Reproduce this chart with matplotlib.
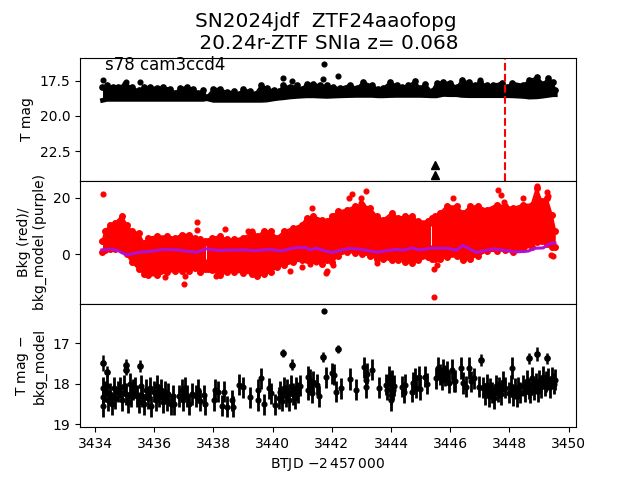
"""Figure: SN2024jdf TESS light curve, background and background-subtracted mag."""
import matplotlib
matplotlib.use("Agg")
import matplotlib.pyplot as plt

# top panel: black band of T mag, edges
band_t = [3434.25, 3434.40, 3434.62, 3434.79, 3435.02, 3435.24, 3435.47, 3435.64, 3435.86, 3436.09,
          3436.31, 3436.54, 3436.71, 3436.87, 3437.10, 3437.32, 3437.49, 3437.66, 3437.77, 3438.00,
          3438.23, 3438.45, 3438.68, 3438.85, 3439.01, 3439.24, 3439.41, 3439.61, 3439.80, 3440.03,
          3440.20, 3440.36, 3440.59, 3440.82, 3440.98, 3441.15, 3441.38, 3441.60, 3441.83, 3442.05,
          3442.28, 3442.61, 3442.84, 3443.06, 3443.35, 3443.57, 3443.74, 3443.96, 3444.19, 3444.36,
          3444.58, 3444.81, 3444.98, 3445.15, 3445.37, 3445.54, 3445.77, 3445.99, 3446.22, 3446.39,
          3446.63, 3446.84, 3447.01, 3447.23, 3447.46, 3447.74, 3447.91, 3448.10, 3448.47, 3448.67,
          3448.94, 3449.14, 3449.31, 3449.47, 3449.55]
band_bright = [17.96, 17.84, 17.96, 17.96, 17.73, 17.96, 18.20, 17.96, 17.96, 18.01,
               17.96, 18.08, 18.36, 18.03, 17.96, 18.08, 18.36, 18.20, 18.67, 18.08,
               18.08, 18.32, 18.27, 18.44, 18.08, 18.27, 18.44, 17.84, 18.03, 18.20,
               18.27, 17.84, 17.96, 17.84, 18.08, 17.73, 17.73, 17.84, 17.84, 17.96,
               18.03, 17.80, 18.03, 17.61, 17.84, 18.08, 18.03, 17.61, 17.84, 17.96,
               17.84, 17.56, 18.03, 17.73, 18.27, 17.65, 17.61, 17.65, 17.96, 17.49,
               17.61, 17.84, 17.61, 17.84, 17.80, 17.65, 17.96, 17.65, 17.80, 17.49,
               17.25, 17.73, 17.32, 17.61, 18.20]
band_faint = [18.90, 18.83, 18.83, 18.83, 18.83, 18.83, 18.83, 18.83, 18.83, 18.83,
              18.83, 18.83, 18.83, 18.83, 18.83, 18.83, 18.83, 18.83, 18.78, 18.90,
              18.90, 18.90, 18.90, 18.90, 18.90, 18.90, 18.90, 18.90, 18.88, 18.80,
              18.75, 18.72, 18.66, 18.62, 18.60, 18.58, 18.58, 18.60, 18.62, 18.60,
              18.58, 18.56, 18.55, 18.55, 18.55, 18.58, 18.58, 18.56, 18.55, 18.55,
              18.55, 18.55, 18.55, 18.56, 18.58, 18.58, 18.48, 18.50, 18.50, 18.55,
              18.57, 18.57, 18.57, 18.57, 18.57, 18.57, 18.57, 18.58, 18.62, 18.67,
              18.65, 18.60, 18.55, 18.50, 18.50]
out_t = [3434.28, 3435.03, 3435.53, 3440.36, 3440.67, 3441.71, 3441.75, 3442.22, 3447.00]
out_mag = [17.43, 17.60, 17.60, 17.31, 17.55, 17.38, 16.32, 17.14, 17.43]
lim_t = [3445.49, 3445.49]
lim_mag = [23.5, 24.2]
sn_peak = 3447.85

# middle panel: red band of background, its outliers and the purple model
bkg_t = [3434.25, 3434.34, 3434.51, 3434.68, 3434.90, 3435.07, 3435.24, 3435.47, 3435.64, 3435.80,
         3436.09, 3436.42, 3436.71, 3436.93, 3437.16, 3437.38, 3437.55, 3437.70, 3437.75, 3437.80, 3437.94, 3438.23,
         3438.45, 3438.68, 3439.01, 3439.30, 3439.46, 3439.71, 3439.94, 3440.14, 3440.39, 3440.70,
         3440.98, 3441.15, 3441.38, 3441.66, 3441.83, 3442.00, 3442.22, 3442.50, 3442.78, 3443.01,
         3443.29, 3443.51, 3443.74, 3444.02, 3444.25, 3444.47, 3444.70, 3444.92, 3445.26, 3445.31, 3445.34,
         3445.38, 3445.49, 3445.65, 3445.88, 3446.22, 3446.44, 3446.67, 3446.95, 3447.23, 3447.57, 3447.85,
         3448.13, 3448.47, 3448.75, 3448.92, 3449.09, 3449.26, 3449.43, 3449.55]
bkg_hi = [4.7, 8.2, 10.5, 11.1, 13.5, 10.5, 8.2, 7.6, 4.1, 5.9,
          6.4, 6.4, 5.9, 7.0, 7.0, 5.9, 5.3, 4.8, 2.9, 4.8, 5.9, 6.4,
          5.3, 5.3, 5.9, 7.6, 6.4, 8.2, 8.2, 5.9, 8.2, 9.4,
          10.5, 12.9, 13.5, 12.3, 11.7, 13.5, 15.2, 15.8, 17.0, 17.6,
          16.4, 13.5, 12.3, 14.6, 12.9, 13.5, 13.5, 11.7, 11.7, 11.7, 5.9,
          13.0, 13.5, 14.6, 17.0, 17.0, 14.6, 17.0, 17.0, 15.8, 17.6, 17.0,
          16.4, 17.6, 17.6, 23.4, 18.7, 19.9, 14.0, 8.2]
bkg_lo = [0.8, 1.4, 1.8, 2.0, 1.6, 0.0, -2.7, -5.1, -6.8, -7.4,
          -7.4, -6.2, -5.9, -5.9, -5.9, -4.7, -6.2, -5.0, -1.5, -5.0, -5.6, -7.4,
          -6.2, -6.2, -6.4, -6.8, -7.7, -7.0, -6.2, -4.4, -3.9, -2.7,
          -2.1, -2.1, -2.1, -3.3, -2.1, -2.7, -0.4, 0.8, 0.6, 0.2,
          -0.4, -1.5, -1.5, -2.1, -2.1, -2.7, -3.0, -2.1, -0.9, -0.9, 3.2,
          -1.5, -1.5, -1.5, -0.9, -0.7, -2.1, -1.5, -0.4, 1.2, 1.2, 1.4,
          0.8, 2.0, 2.8, 4.3, 4.9, 3.7, 2.6, 2.6]
bkg_out_t = [3434.28, 3441.32, 3437.46, 3437.46, 3438.39, 3439.18, 3439.30, 3436.99, 3436.35, 3437.04,
             3437.55, 3438.09, 3440.57, 3441.00, 3441.27, 3441.47, 3441.83, 3443.14, 3442.69, 3442.59,
             3442.97, 3442.97, 3446.10, 3447.62, 3447.70, 3447.83, 3448.47, 3448.94, 3449.26, 3449.31,
             3445.46, 3445.46, 3445.56, 3442.05, 3441.80, 3443.54, 3449.39, 3449.46, 3449.07]
bkg_out = [21.4, 16.5, 11.6, 8.5, 8.9, 8.3, 8.3, -10.5, -8.1, -7.7,
           -6.3, -7.5, -6.0, -4.6, -3.4, -2.8, -6.0, 22.3, 21.4, 19.8,
           20.0, 18.3, 20.0, 22.6, 20.9, 18.5, 20.0, 24.3, 22.1, 20.6,
           -15.1, -5.1, -3.7, -3.7, -6.6, -3.2, -0.2, -0.7, 4.8]
# thin empty lines inside the band, where the spacecraft data break
gap_t = [3437.75, 3445.34]
gap_lo = [-1.5, 3.2]
gap_hi = [2.9, 10.0]
model_t = [3434.23, 3434.57, 3434.79, 3435.02, 3435.18, 3435.35, 3435.64, 3436.03, 3436.31, 3436.76,
           3437.04, 3437.44, 3437.75, 3438.17, 3438.56, 3439.01, 3439.41, 3439.86, 3440.31, 3440.70,
           3441.10, 3441.27, 3441.49, 3441.77, 3442.05, 3442.28, 3442.61, 3443.01, 3443.23, 3443.57,
           3443.85, 3444.19, 3444.42, 3444.70, 3444.98, 3445.37, 3445.88, 3446.22, 3446.42, 3446.89,
           3447.46, 3447.85, 3448.24, 3448.64, 3448.86, 3449.14, 3449.37, 3449.54]
model = [1.6, 1.9, 1.3, 0.0, 0.0, 0.5, 0.9, 1.3, 1.8, 1.6,
         1.2, 0.8, 2.0, 1.4, 1.5, 1.6, 1.3, 1.8, 1.2, 2.3,
         2.5, 1.6, 2.2, 1.2, 0.7, 1.5, 2.1, 1.8, 1.3, 0.8,
         1.3, 1.8, 1.5, 2.3, 1.6, 2.2, 2.2, 1.5, 3.2, 0.7,
         2.0, 1.4, 0.9, 1.2, 2.2, 2.3, 3.9, 4.0]

# bottom panel: difference magnitudes, typical error bars
diff_t = [3434.27, 3434.27, 3434.27, 3434.33, 3434.40, 3434.45, 3434.52, 3434.58, 3434.65, 3434.68,
          3434.78, 3434.85, 3434.92, 3434.98, 3435.05, 3435.12, 3435.18, 3435.22, 3435.28,
          3435.35, 3435.42, 3435.48, 3435.55, 3435.60, 3435.66, 3435.72, 3435.78, 3435.84, 3435.90,
          3435.98, 3436.05, 3436.10, 3436.17, 3436.24, 3436.30, 3436.36, 3436.42, 3436.48, 3436.55, 3436.62, 3436.68,
          3436.85, 3436.92, 3436.98, 3437.05, 3437.12, 3437.18, 3437.26,
          3437.42, 3437.48, 3437.55, 3437.68, 3437.72,
          3438.03, 3438.05, 3438.15, 3438.28, 3438.34, 3438.47, 3438.62, 3438.67,
          3438.87, 3438.99, 3439.25, 3439.50, 3439.52, 3439.62, 3439.72, 3439.86, 3439.95, 3440.08,
          3440.20, 3440.26, 3440.32, 3440.38, 3440.44, 3440.50, 3440.56, 3440.62, 3440.68, 3440.74, 3440.80, 3440.86, 3440.93,
          3441.18, 3441.20, 3441.27, 3441.33, 3441.38, 3441.50, 3441.55, 3441.80, 3442.00, 3442.07, 3442.14, 3442.32,
          3442.62, 3442.83, 3443.10, 3443.16, 3443.16, 3443.20, 3443.37, 3443.61,
          3443.83, 3443.87, 3443.94, 3443.97, 3444.00, 3444.00, 3444.03, 3444.08, 3444.10,
          3444.36, 3444.44, 3444.47, 3444.70, 3444.73, 3444.82, 3444.83, 3444.95, 3444.98, 3445.15, 3445.20,
          3445.52, 3445.60, 3445.65, 3445.71, 3445.77, 3445.83, 3445.90, 3445.97, 3446.05, 3446.16,
          3446.13, 3446.38, 3446.44, 3446.52, 3446.63, 3446.69, 3446.80, 3446.97,
          3447.12, 3447.18, 3447.24, 3447.30, 3447.36, 3447.42, 3447.48, 3447.54, 3447.60, 3447.66, 3447.72, 3447.78, 3447.84,
          3447.98, 3448.04, 3448.08, 3448.12, 3448.18, 3448.24, 3448.30, 3448.36,
          3448.47, 3448.53, 3448.59, 3448.65, 3448.71, 3448.77, 3448.83, 3448.89, 3448.95, 3449.01,
          3449.07, 3449.13, 3449.19, 3449.25, 3449.31, 3449.37, 3449.43, 3449.49, 3449.54]
diff_mag = [18.10, 18.32, 18.55, 18.20, 18.05, 18.40, 18.25, 18.50, 18.10, 18.35,
            18.20, 18.10, 18.40, 18.05, 18.25, 18.45, 18.00, 18.30, 18.15,
            18.10, 18.30, 18.45, 18.05, 18.30, 18.50, 18.15, 18.35, 18.10, 18.55,
            18.20, 18.40, 18.05, 18.30, 18.15, 18.45, 18.20, 18.40, 18.25, 18.50, 18.30, 18.50,
            18.30, 18.15, 18.40, 18.10, 18.30, 18.50, 18.25,
            18.30, 18.15, 18.42, 18.28, 18.50,
            18.40, 18.15, 18.19, 18.54, 18.19, 18.56, 18.40, 18.56,
            18.02, 18.08, 18.33, 18.40, 18.15, 17.86, 18.50, 18.11, 18.23, 18.52,
            18.35, 18.20, 18.42, 18.10, 18.30, 18.15, 18.40, 18.05, 18.25, 18.35, 18.10, 18.22, 18.05,
            17.82, 18.15, 17.90, 18.22, 17.95, 18.02, 18.31, 17.84, 17.74, 17.78, 18.19, 18.11,
            17.88, 18.15, 17.59, 17.90, 18.08, 17.75, 17.65, 18.10,
            18.02, 18.15, 17.82, 17.95, 18.27, 18.40, 17.92, 18.15, 18.05,
            18.07, 18.21, 18.02, 18.19, 17.98, 17.86, 18.10, 17.82, 18.13, 17.82, 18.00,
            17.86, 17.61, 17.78, 17.90, 17.65, 17.80, 17.70, 17.97, 17.65, 17.93,
            17.94, 17.61, 17.98, 18.07, 17.61, 17.94, 17.86, 18.07,
            18.10, 18.25, 18.02, 18.30, 18.12, 18.22, 18.35, 18.05, 18.20, 18.10, 18.25, 17.95, 18.10,
            18.22, 18.05, 17.61, 18.28, 18.12, 18.30, 18.08, 18.22,
            18.05, 18.20, 17.92, 18.12, 18.22, 17.85, 18.15, 18.00, 18.18, 17.92,
            18.08, 17.82, 18.05, 17.95, 17.88, 18.08, 17.85, 18.00, 17.90]
diff_err = 0.26
# brighter, isolated points carry shorter bars
sharp_t = [3434.28, 3434.40, 3435.03, 3435.03, 3435.53, 3440.36, 3440.67, 3441.71,
           3442.22, 3447.03, 3448.66, 3448.94, 3449.27]
sharp_mag = [17.49, 17.70, 17.53, 17.65, 17.56, 17.24, 17.53, 17.34,
             17.14, 17.41, 17.37, 17.26, 17.37]
sharp_err = [0.19, 0.14, 0.14, 0.14, 0.14, 0.11, 0.14, 0.12,
             0.11, 0.14, 0.14, 0.17, 0.14]
lone_t = [3441.75]
lone_mag = [16.2]

fig, axes = plt.subplots(3, 1, sharex=True, figsize=(6.4, 4.8))
fig.subplots_adjust(hspace=0)
ax, ax2, ax3 = axes

ax.fill_between(band_t, band_bright, band_faint, color="k", lw=0)
ax.plot(band_t, band_bright, "-o", color="k", lw=1.5, ms=3.8)
ax.plot(band_t, band_faint, "-", color="k", lw=3.4)
ax.plot(out_t, out_mag, "o", color="k", ms=3.4)
ax.plot(lim_t, lim_mag, "^", color="k", ms=6)
ax.axvline(sn_peak, color="r", ls="--", lw=1.5)
ax.set_ylim(24.6, 15.87)
ax.set_yticks([17.5, 20.0, 22.5])
ax.set_ylabel("T mag")
ax.text(3434.33, 16.73, "s78 cam3ccd4", fontsize=12)
ax.set_title("SN2024jdf  ZTF24aaofopg\n 20.24r-ZTF SNIa z= 0.068", fontsize=14.4, x=0.495)

ax2.fill_between(bkg_t, bkg_lo, bkg_hi, color="r", lw=0)
ax2.plot(bkg_t, bkg_hi, "-o", color="r", lw=1.5, ms=4)
ax2.plot(bkg_t, bkg_lo, "-o", color="r", lw=1.5, ms=4)
ax2.plot(bkg_out_t, bkg_out, "o", color="r", ms=3.4)
ax2.vlines(gap_t, gap_lo, gap_hi, color="w", lw=0.7)
ax2.plot(model_t, model, color="#b010d0", lw=2.2)
ax2.set_ylim(-17.5, 26)
ax2.set_yticks([0, 20])
ax2.set_ylabel("Bkg (red)/\nbkg_model (purple)")

ax3.errorbar(diff_t, diff_mag, yerr=diff_err, fmt="o", color="k", ms=3.4, elinewidth=2)
ax3.errorbar(sharp_t, sharp_mag, yerr=sharp_err, fmt="o", color="k", ms=3.8, elinewidth=1.8)
ax3.plot(lone_t, lone_mag, "o", color="k", ms=3.5)
ax3.set_ylim(19.07, 16.03)
ax3.set_yticks([17, 18, 19])
ax3.set_ylabel("T mag $-$\nbkg_model")
ax3.set_xlabel(r"BTJD $-2\,457\,000$")
ax3.set_xlim(3433.49, 3450.25)
ax3.set_xticks(range(3434, 3451, 2))

ax.tick_params(bottom=False)
ax2.tick_params(bottom=False)
fig.savefig("out.png", dpi=100)
